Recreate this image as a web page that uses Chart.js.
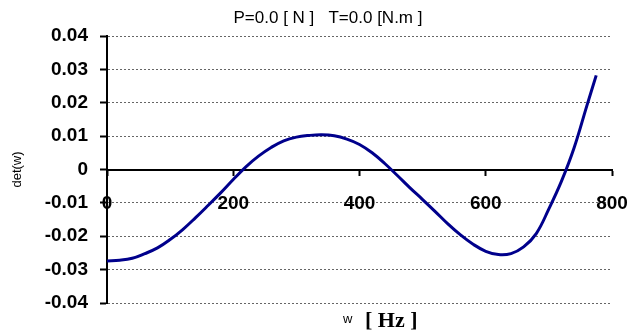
<!DOCTYPE html>
<html>
<head>
<meta charset="utf-8">
<script src="https://cdn.jsdelivr.net/npm/chart.js@4"></script>
<style>
  html, body { margin: 0; padding: 0; background: #fff; }
  #wrap { width: 631px; height: 331px; }
</style>
</head>
<body>
<div id="wrap"><canvas id="c" width="631" height="331"></canvas></div>
<script>
// frequency w [Hz] and det(w)
const freqs = [0, 20, 40, 60, 80, 100, 120, 140, 160, 180, 200, 220, 240, 260, 280, 300, 320, 340, 360, 380,
  400, 420, 440, 460, 480, 500, 520, 540, 560, 580, 600, 620, 640, 660, 680, 700, 720, 740, 760, 775];
const detValues = [-0.0274, -0.0272, -0.0266, -0.0252, -0.0235, -0.0210, -0.0180, -0.0145, -0.0108, -0.0070,
  -0.0030, 0.0008, 0.0040, 0.0066, 0.0086, 0.0097, 0.0102, 0.0104, 0.0101, 0.0091,
  0.0075, 0.0050, 0.0018, -0.0018, -0.0055, -0.0090, -0.0126, -0.0163, -0.0196, -0.0224,
  -0.0245, -0.0255, -0.0252, -0.0232, -0.0192, -0.0118, -0.0035, 0.0065, 0.0190, 0.0282];
const xTicks = [0, 200, 400, 600, 800];
const yTicks = [-0.04, -0.03, -0.02, -0.01, 0, 0.01, 0.02, 0.03, 0.04];
const chartTitle = 'P=0.0 [ N ]   T=0.0 [N.m ]';

const points = freqs.map((f, i) => ({x: f, y: detValues[i]}));

// title (slightly right of centre) and the mixed-font x axis title
const extraText = {
  id: 'extraText',
  afterDraw(chart){
    const ctx = chart.ctx;
    ctx.save();
    ctx.fillStyle = '#000';
    ctx.textBaseline = 'middle';
    ctx.textAlign = 'center';
    ctx.font = '17px "Liberation Sans", Arial, sans-serif';
    ctx.fillText(chartTitle, 328, 18);
    ctx.textBaseline = 'alphabetic';
    ctx.textAlign = 'left';
    ctx.font = '13px "Liberation Sans", Arial, sans-serif';
    ctx.fillText('w', 343, 323);
    ctx.font = 'bold 22px "Liberation Serif", "Times New Roman", serif';
    ctx.fillText('[ Hz ]', 365, 327);
    ctx.restore();
  }
};

new Chart(document.getElementById('c'), {
  type: 'line',
  data: {
    datasets: [{
      data: points,
      borderColor: '#00008c',
      borderWidth: 3,
      pointRadius: 0,
      tension: 0.4,
      fill: false
    }]
  },
  options: {
    responsive: false,
    animation: false,
    layout: {autoPadding: false, padding: {left: 0, right: 19, top: 36, bottom: 28}},
    plugins: {
      legend: {display: false},
      tooltip: {enabled: false},
      title: {display: false}
    },
    scales: {
      x: {
        type: 'linear',
        position: {y: 0},
        min: 0, max: 800,
        afterBuildTicks(scale){ scale.ticks = xTicks.map(v => ({value: v})); },
        afterFit(scale){ scale.paddingLeft = 0; scale.paddingRight = 0; },
        ticks: {
          color: '#000',
          padding: 18,
          maxRotation: 0,
          font: {family: '"Liberation Sans", Arial, sans-serif', size: 19, weight: 'bold'}
        },
        grid: {drawOnChartArea: false, drawTicks: true, tickLength: 5, tickColor: '#000', tickWidth: 2},
        border: {display: true, color: '#000', width: 2}
      },
      y: {
        type: 'linear',
        min: -0.04, max: 0.04,
        afterBuildTicks(scale){ scale.ticks = yTicks.map(v => ({value: v})); },
        afterFit(scale){ scale.width = 107; scale.paddingTop = 0; scale.paddingBottom = 0; },
        ticks: {
          color: '#000',
          padding: 12,
          font: {family: '"Liberation Sans", Arial, sans-serif', size: 19, weight: 'bold'},
          callback: v => Math.abs(v) < 1e-9 ? '0' : v.toFixed(2)
        },
        grid: {
          color: '#666', lineWidth: 1,
          tickLength: 7, tickColor: '#000', tickWidth: 2, tickBorderDash: []
        },
        border: {display: true, color: '#000', width: 2, dash: [2, 2]},
        title: {
          display: true, text: 'det(w)', color: '#000',
          font: {family: '"Liberation Sans", Arial, sans-serif', size: 13, lineHeight: 1.2},
          padding: {top: 10, bottom: 0}
        }
      }
    }
  },
  plugins: [extraText]
});
</script>
</body>
</html>
